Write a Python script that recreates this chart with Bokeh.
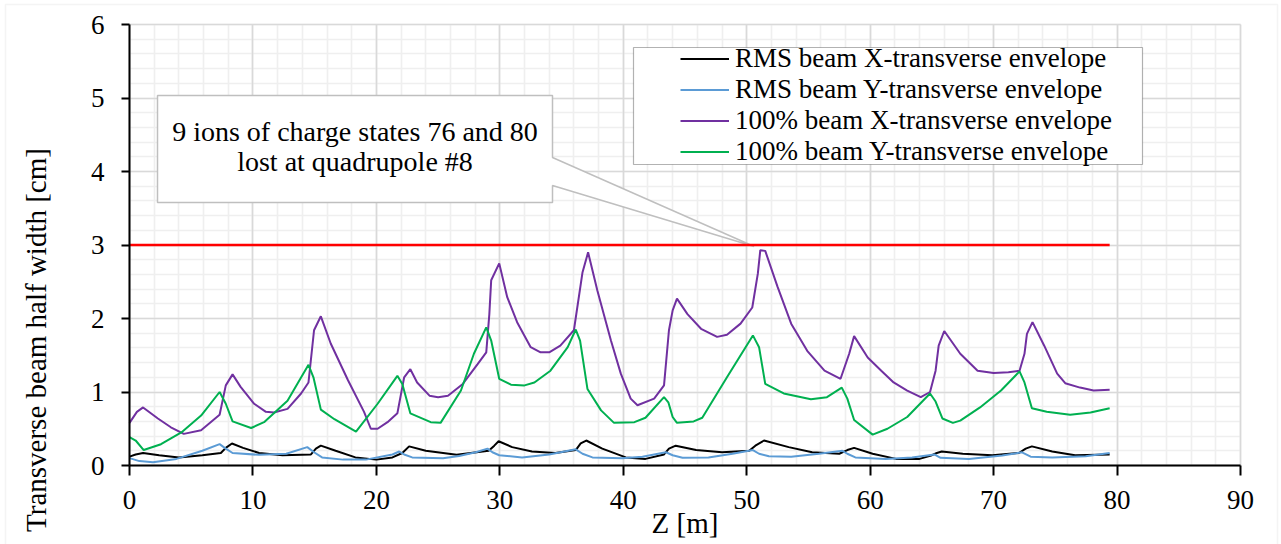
from math import pi
from bokeh.plotting import figure
from bokeh.models import (Range1d, SingleIntervalTicker, Label, BoxAnnotation,
                          Legend, LegendItem, Grid)
from bokeh.core.properties import value
from bokeh.embed import file_html
from bokeh.resources import INLINE

# ---------------- data ----------------
z_rms_x = [0.0, 0.5, 1.1, 2.4, 4.0, 5.9, 7.4, 7.8, 8.3, 9.2, 10.5, 12.4, 14.7, 15.1, 15.5,
           16.7, 18.3, 20.0, 21.3, 22.1, 22.65, 24.0, 26.5, 29.1, 29.55, 29.9, 31.0, 32.6,
           34.5, 36.15, 36.55, 37.0, 38.3, 40.2, 41.8, 43.3, 43.7, 44.25, 45.9, 48.0, 50.2,
           50.7, 51.4, 53.4, 55.3, 57.5, 58.15, 58.7, 60.2, 62.1, 64.0, 65.0, 65.4, 65.8,
           67.5, 69.9, 72.05, 72.6, 73.1, 74.75, 76.6, 79.4]
rms_x = [0.12, 0.15, 0.17, 0.14, 0.11, 0.14, 0.17, 0.24, 0.30, 0.24, 0.17, 0.14, 0.15, 0.23, 0.27,
         0.20, 0.11, 0.08, 0.11, 0.17, 0.26, 0.20, 0.145, 0.20, 0.27, 0.33, 0.25, 0.19,
         0.17, 0.21, 0.30, 0.34, 0.23, 0.11, 0.09, 0.15, 0.23, 0.27, 0.21, 0.18, 0.20,
         0.27, 0.34, 0.25, 0.18, 0.16, 0.21, 0.24, 0.16, 0.09, 0.09, 0.14, 0.17, 0.19,
         0.16, 0.14, 0.17, 0.23, 0.26, 0.19, 0.14, 0.15]

z_rms_y = [0.0, 0.8, 1.9, 3.8, 5.9, 7.3, 7.8, 8.35, 10.5, 12.7, 14.4, 14.95, 15.6, 17.3, 19.15,
           21.3, 21.85, 22.25, 22.9, 25.4, 26.7, 28.05, 29.0, 29.4, 29.95, 31.8, 34.0, 36.15,
           36.7, 37.5, 39.9, 41.55, 43.45, 44.0, 44.8, 46.9, 48.85, 50.5, 51.0, 51.8, 53.6,
           55.85, 57.75, 58.15, 58.8, 61.25, 63.4, 65.2, 65.7, 68.0, 70.7, 72.3, 73.0, 74.75,
           77.45, 79.4]
rms_y = [0.10, 0.06, 0.045, 0.09, 0.20, 0.29, 0.23, 0.17, 0.145, 0.16, 0.25, 0.18, 0.11, 0.08, 0.08,
         0.15, 0.19, 0.15, 0.11, 0.10, 0.13, 0.18, 0.23, 0.18, 0.14, 0.11, 0.15, 0.22,
         0.16, 0.11, 0.10, 0.12, 0.18, 0.14, 0.105, 0.11, 0.16, 0.21, 0.16, 0.125, 0.12,
         0.16, 0.20, 0.16, 0.11, 0.09, 0.11, 0.15, 0.105, 0.09, 0.135, 0.18, 0.12, 0.11,
         0.125, 0.17]

z_full_x = [0.0, 0.6, 1.1, 2.3, 3.35, 4.4, 5.8, 7.3, 7.8, 8.35, 9.0, 10.1, 11.05, 11.7, 12.8,
            13.9, 14.5, 14.95, 15.5, 16.3, 17.7, 19.0, 19.55, 20.1, 20.9, 21.7, 22.25, 22.75,
            23.3, 24.3, 25.0, 25.8, 27.0, 28.2, 28.9, 29.15, 29.3, 29.95, 30.6, 31.4, 32.5,
            33.3, 34.0, 34.9, 36.0, 36.7, 37.15, 37.9, 39.0, 39.8, 40.6, 41.15, 42.5, 43.3,
            43.7, 44.0, 44.35, 45.2, 46.3, 47.6, 48.4, 49.5, 50.45, 50.9, 51.1, 51.5, 52.5,
            53.6, 54.9, 56.3, 57.6, 58.3, 58.7, 59.8, 60.9, 61.9, 63.0, 64.1, 64.85, 65.3,
            65.55, 66.0, 67.3, 68.7, 70.0, 71.2, 72.1, 72.5, 72.7, 73.15, 74.1, 75.15, 75.8,
            77.0, 78.1, 79.4]
full_x = [0.58, 0.73, 0.79, 0.64, 0.52, 0.43, 0.48, 0.69, 1.09, 1.24, 1.07, 0.84, 0.73, 0.72, 0.77,
          0.98, 1.13, 1.84, 2.03, 1.66, 1.16, 0.73, 0.50, 0.50, 0.59, 0.71, 1.20, 1.31,
          1.13, 0.95, 0.93, 0.95, 1.11, 1.38, 1.54, 2.06, 2.52, 2.75, 2.29, 1.95, 1.61,
          1.54, 1.54, 1.63, 1.84, 2.63, 2.90, 2.38, 1.70, 1.25, 0.91, 0.82, 0.91, 1.09,
          1.84, 2.11, 2.27, 2.06, 1.86, 1.75, 1.78, 1.93, 2.15, 2.61, 2.93, 2.92, 2.43,
          1.93, 1.56, 1.29, 1.18, 1.52, 1.76, 1.47, 1.29, 1.13, 1.02, 0.93, 1.00, 1.29,
          1.63, 1.83, 1.52, 1.29, 1.26, 1.27, 1.29, 1.52, 1.79, 1.95, 1.63, 1.25, 1.12,
          1.06, 1.02, 1.03]

z_full_y = [0.0, 0.5, 1.15, 2.55, 4.2, 5.8, 7.3, 7.8, 8.35, 9.85, 10.9, 12.8, 14.5, 14.9, 15.5,
            16.6, 18.35, 20.1, 21.7, 22.1, 22.75, 24.4, 25.2, 26.85, 27.9, 28.9, 29.3, 29.95,
            30.9, 32.0, 32.8, 34.1, 35.5, 36.15, 36.5, 37.1, 38.2, 39.25, 40.9, 41.8, 43.3,
            43.65, 44.0, 44.35, 45.7, 46.4, 48.4, 50.5, 51.0, 51.5, 53.0, 55.2, 56.5, 57.7,
            58.15, 58.7, 60.2, 61.4, 63.0, 64.85, 65.3, 65.85, 66.7, 67.3, 68.9, 70.6, 72.1,
            72.5, 73.1, 74.3, 76.2, 77.85, 79.4]
full_y = [0.385, 0.34, 0.21, 0.29, 0.45, 0.68, 1.00, 0.84, 0.60, 0.51, 0.59, 0.88, 1.37, 1.20, 0.76,
          0.63, 0.46, 0.84, 1.22, 1.11, 0.71, 0.59, 0.58, 1.02, 1.52, 1.88, 1.70, 1.18,
          1.10, 1.09, 1.13, 1.29, 1.61, 1.85, 1.70, 1.04, 0.75, 0.58, 0.59, 0.65, 0.93,
          0.86, 0.66, 0.58, 0.60, 0.65, 1.20, 1.77, 1.61, 1.11, 0.98, 0.90, 0.93, 1.06,
          0.91, 0.62, 0.42, 0.50, 0.66, 0.98, 0.87, 0.64, 0.58, 0.61, 0.79, 1.02, 1.28,
          1.13, 0.78, 0.73, 0.69, 0.72, 0.78]

threshold = 3.0
loss_point = (50.6, 2.98)          # where the callout points
series_labels = ["RMS beam X-transverse envelope", "RMS beam Y-transverse envelope",
                 "100% beam X-transverse envelope", "100% beam Y-transverse envelope"]
callout_lines = ["9 ions of charge states 76 and 80", "lost at quadrupole #8"]
x_title = "Z [m]"
y_title = "Transverse beam half width [cm]"

# ---------------- layout (pixels) ----------------
FONT = "Liberation Serif"
colors = ["#000000", "#5b9bd5", "#7030a0", "#00b050"]
W, H = 1281, 544
AL, AR, AT, AB = 129, 1240, 24, 465          # plot area in the canvas
X0, X1, Y0, Y1 = 0, 90, 0, 6
kx = (AR - AL) / (X1 - X0)
ky = (AB - AT) / (Y1 - Y0)
x_lo, x_hi = X0 - AL / kx, X1 + (W - AR) / kx
y_lo, y_hi = Y0 - (H - AB) / ky, Y1 + AT / ky


def px2x(px):
    return x_lo + px / kx


def py2y(py):
    return y_hi - py / ky


p = figure(width=W, height=H, x_range=Range1d(x_lo, x_hi), y_range=Range1d(y_lo, y_hi),
           output_backend="svg", toolbar_location=None, min_border=0,
           min_border_left=0, min_border_right=0, min_border_top=0, min_border_bottom=0,
           background_fill_color="white", border_fill_color="white")
p.outline_line_color = None

xt = SingleIntervalTicker(interval=10, num_minor_ticks=5)
yt = SingleIntervalTicker(interval=1, num_minor_ticks=5)
p.xaxis.ticker = xt
p.yaxis.ticker = yt
p.xaxis.fixed_location = 0
p.yaxis.fixed_location = 0
p.xaxis.bounds = (X0, X1)
p.yaxis.bounds = (Y0, Y1)

has_cross = "cross_bounds" in Grid.properties()

# minor grids first, major grids on top
for g, t, b, cb in ((p.xgrid[0], xt, (X0, X1), (Y0, Y1)), (p.ygrid[0], yt, (Y0, Y1), (X0, X1))):
    g.ticker = t
    g.bounds = b
    if has_cross:
        g.cross_bounds = cb
    g.grid_line_color = None
    g.minor_grid_line_color = "#efefef"
    g.minor_grid_line_width = 1.6
for dim, t, b, cb in ((0, xt, (X0, X1), (Y0, Y1)), (1, yt, (Y0, Y1), (X0, X1))):
    g = Grid(dimension=dim, ticker=t, bounds=b, grid_line_color="#d9d9d9", grid_line_width=1.6)
    if has_cross:
        g.cross_bounds = cb
    p.add_layout(g)
if not has_cross:
    for l, r, b, t in ((x_lo, X0, y_lo, y_hi), (X1, x_hi, y_lo, y_hi),
                       (x_lo, x_hi, y_lo, Y0), (x_lo, x_hi, Y1, y_hi)):
        p.add_layout(BoxAnnotation(left=l, right=r, bottom=b, top=t, fill_color="white",
                                   fill_alpha=1, line_alpha=0, level="underlay"))

for ax in (p.xaxis[0], p.yaxis[0]):
    ax.axis_line_width = 2
    ax.axis_line_color = "black"
    ax.major_tick_line_width = 2
    ax.major_tick_line_color = "black"
    ax.major_tick_in = 0
    ax.minor_tick_line_color = None
    ax.major_label_text_font = FONT
    ax.major_label_text_font_size = "27px"
    ax.major_label_text_color = "black"
p.xaxis.major_tick_out = 10
p.yaxis.major_tick_out = 8
p.xaxis.major_label_standoff = 15
p.yaxis.major_label_standoff = 17

# outer chart border
p.add_layout(BoxAnnotation(left=px2x(5), right=px2x(1277), top=py2y(4), bottom=py2y(550),
                           fill_alpha=0, line_color="#d9d9d9", line_width=1.5))

# callout (annotation shape)
cL, cR, cT, cB = px2x(157), px2x(552), py2y(95), py2y(202)
wT, wB = py2y(157), py2y(185)
tip_x, tip_y = loss_point
p.patch(x=[cL, cR, cR, tip_x, cR, cR, cL], y=[cT, cT, wT, tip_y, wB, cB, cB],
        fill_color="white", line_color="#bfbfbf", line_width=1.5)
p.text(x=[(cL + cR) / 2] * 2, y=[py2y(131), py2y(161)], text=callout_lines,
       text_font=value(FONT), text_font_size="28px", text_align="center",
       text_baseline="alphabetic", text_color="black")

# threshold line
p.line([z_full_x[0], z_full_x[-1]], [threshold, threshold], line_color="#ff0000", line_width=2.5)

renderers = []
for (zz, yy), c in zip(((z_rms_x, rms_x), (z_rms_y, rms_y), (z_full_x, full_x), (z_full_y, full_y)),
                       colors):
    renderers.append(p.line(zz, yy, line_color=c, line_width=2))

# legend box and legend
p.add_layout(BoxAnnotation(left=px2x(633), right=px2x(1142), top=py2y(47), bottom=py2y(164),
                           fill_color="white", fill_alpha=1, line_color="black", line_width=1.2))
legend = Legend(items=[LegendItem(label=l, renderers=[r]) for l, r in zip(series_labels, renderers)],
                location=(680, H - 167), padding=0, spacing=0, margin=0,
                glyph_width=49, glyph_height=29, label_height=29, label_standoff=6,
                label_text_font=FONT, label_text_font_size="27px", label_text_color="black",
                label_text_line_height=1.0,
                border_line_alpha=0, background_fill_alpha=0)
p.add_layout(legend)

# axis titles
p.add_layout(Label(x=(AL + AR) / 2 / kx + x_lo, y=py2y(522), text=x_title,
                   text_align="center", text_baseline="alphabetic",
                   text_font=FONT, text_font_size="29px", text_color="black"))
p.add_layout(Label(x=px2x(35), y=py2y(339.5), text=y_title,
                   angle=pi / 2, text_align="center", text_baseline="alphabetic",
                   text_font=FONT, text_font_size="29px", text_color="black"))

open("out.html", "w").write(file_html(p, INLINE))
